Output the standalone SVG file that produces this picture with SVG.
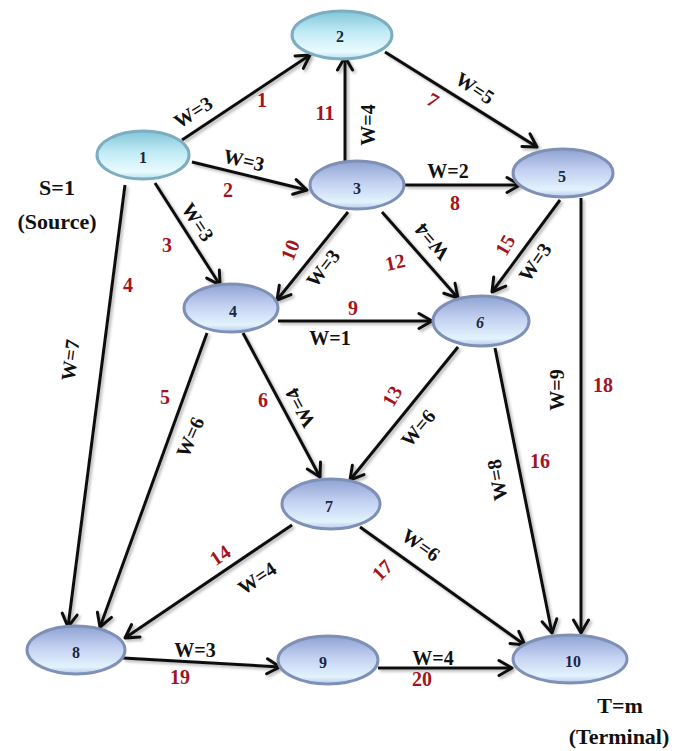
<svg xmlns="http://www.w3.org/2000/svg" width="681" height="751" viewBox="0 0 681 751">
<defs>
<linearGradient id="gBlue" x1="0" y1="0" x2="0" y2="1">
<stop offset="0" stop-color="#8ea2d2"/>
<stop offset="0.45" stop-color="#c3d0f1"/>
<stop offset="0.85" stop-color="#e3f3fd"/>
<stop offset="1" stop-color="#b9c8ea"/>
</linearGradient>
<linearGradient id="gCyan" x1="0" y1="0" x2="0" y2="1">
<stop offset="0" stop-color="#82c6da"/>
<stop offset="0.45" stop-color="#c2ebf5"/>
<stop offset="0.85" stop-color="#eafbff"/>
<stop offset="1" stop-color="#b4e0ec"/>
</linearGradient>
<marker id="arr" viewBox="-15 -10 18 20" refX="0" refY="0" markerWidth="18" markerHeight="20" markerUnits="userSpaceOnUse" orient="auto">
<path d="M-13,-7.5 L0,0 L-13,7.5" fill="none" stroke="#111" stroke-width="3" stroke-linecap="round" stroke-linejoin="round"/>
</marker>
<filter id="sh" x="-10%" y="-10%" width="120%" height="120%">
<feDropShadow dx="2" dy="2" stdDeviation="1.5" flood-color="#000" flood-opacity="0.3"/>
</filter>
</defs>
<style>
.e{stroke:#111;stroke-width:3;fill:none;marker-end:url(#arr)}
.nb{fill:url(#gBlue);stroke:#7f90b6;stroke-width:3}
.nc{fill:url(#gCyan);stroke:#7cadc0;stroke-width:3}
.nl{font-size:16px;fill:#1b2640;text-anchor:middle;dominant-baseline:central}
.w{font-size:20px;fill:#111;text-anchor:middle;dominant-baseline:central}
.r{font-size:20px;fill:#a3141f;text-anchor:middle;dominant-baseline:central}
.t{font-size:22px;fill:#111;text-anchor:middle}
</style>
<rect width="681" height="751" fill="#fff"/>
<g id="connectors" filter="url(#sh)">
<line class="e" x1="182" y1="140" x2="310" y2="55"/>
<line class="e" x1="192" y1="162" x2="307" y2="190"/>
<line class="e" x1="155" y1="183" x2="220" y2="285"/>
<line class="e" x1="125" y1="185" x2="68" y2="627"/>
<line class="e" x1="207" y1="333" x2="100" y2="627"/>
<line class="e" x1="243" y1="333" x2="320" y2="477"/>
<line class="e" x1="385" y1="52" x2="537" y2="147"/>
<line class="e" x1="405" y1="185" x2="520" y2="185"/>
<line class="e" x1="278" y1="321" x2="432" y2="321"/>
<line class="e" x1="348" y1="212" x2="277" y2="300"/>
<line class="e" x1="345" y1="162" x2="345" y2="57"/>
<line class="e" x1="382" y1="212" x2="458" y2="298"/>
<line class="e" x1="458" y1="347" x2="350" y2="480"/>
<line class="e" x1="292" y1="525" x2="125" y2="638"/>
<line class="e" x1="560" y1="200" x2="492" y2="292"/>
<line class="e" x1="495" y1="348" x2="552" y2="633"/>
<line class="e" x1="360" y1="527" x2="525" y2="645"/>
<line class="e" x1="581" y1="198" x2="581" y2="633"/>
<line class="e" x1="123" y1="658" x2="280" y2="667"/>
<line class="e" x1="378" y1="668" x2="512" y2="668"/>
</g>
<g id="edge-labels" font-family="Liberation Serif, serif" font-weight="bold">
<text class="w" transform="translate(193,112) rotate(-32)">W=3</text>
<text class="r" x="262" y="100">1</text>
<text class="w" transform="translate(244,160) rotate(13)">W=3</text>
<text class="r" x="228" y="190">2</text>
<text class="w" transform="translate(198,222) rotate(57)">W=3</text>
<text class="r" x="167" y="245">3</text>
<text class="w" transform="translate(70,360) rotate(-83)">W=7</text>
<text class="r" x="128" y="285">4</text>
<text class="w" transform="translate(190,437) rotate(-66)">W=6</text>
<text class="r" x="165" y="397">5</text>
<text class="w" transform="translate(300,408) rotate(-118)">W=4</text>
<text class="r" x="263" y="400">6</text>
<text class="w" transform="translate(475,88) rotate(33)">W=5</text>
<text class="r" transform="translate(433,100) rotate(30)">7</text>
<text class="w" x="448" y="171">W=2</text>
<text class="r" x="455" y="203">8</text>
<text class="w" x="330" y="338">W=1</text>
<text class="r" x="353" y="308">9</text>
<text class="w" transform="translate(323,268) rotate(-52)">W=3</text>
<text class="r" transform="translate(290,250) rotate(-68)">10</text>
<text class="w" transform="translate(368,125) rotate(-90)">W=4</text>
<text class="r" x="325" y="113">11</text>
<text class="w" transform="translate(432,242) rotate(-131)">W=4</text>
<text class="r" transform="translate(395,262) rotate(-12)">12</text>
<text class="w" transform="translate(418,428) rotate(-50)">W=6</text>
<text class="r" transform="translate(392,396) rotate(-60)">13</text>
<text class="w" transform="translate(257,578) rotate(-34)">W=4</text>
<text class="r" transform="translate(220,555) rotate(-34)">14</text>
<text class="w" transform="translate(535,262) rotate(-55)">W=3</text>
<text class="r" transform="translate(505,245) rotate(-60)">15</text>
<text class="w" transform="translate(497,480) rotate(-100)">W=8</text>
<text class="r" x="540" y="461">16</text>
<text class="w" transform="translate(421,545) rotate(35)">W=6</text>
<text class="r" transform="translate(382,570) rotate(-45)">17</text>
<text class="w" transform="translate(557,390) rotate(-90)">W=9</text>
<text class="r" x="603" y="385">18</text>
<text class="w" x="195" y="650">W=3</text>
<text class="r" x="180" y="677">19</text>
<text class="w" x="433" y="658">W=4</text>
<text class="r" x="422" y="679">20</text>
</g>
<g id="nodes" font-family="Liberation Serif, serif" font-weight="bold">
<g id="node1"><ellipse class="nc" cx="143" cy="155" rx="46" ry="24"/><text class="nl" x="143" y="157">1</text></g>
<g id="node2"><ellipse class="nc" cx="342" cy="35" rx="50" ry="24"/><text class="nl" x="340" y="36">2</text></g>
<g id="node3"><ellipse class="nb" cx="357" cy="185" rx="47" ry="24"/><text class="nl" x="357" y="188">3</text></g>
<g id="node4"><ellipse class="nb" cx="231" cy="308" rx="47" ry="24"/><text class="nl" x="233" y="311">4</text></g>
<g id="node5"><ellipse class="nb" cx="563" cy="173" rx="50" ry="24"/><text class="nl" x="562" y="176">5</text></g>
<g id="node6"><ellipse class="nb" cx="481" cy="321" rx="48" ry="25"/><text class="nl" x="480" y="322" font-style="italic">6</text></g>
<g id="node7"><ellipse class="nb" cx="331" cy="504" rx="49" ry="25"/><text class="nl" x="329" y="506">7</text></g>
<g id="node8"><ellipse class="nb" cx="76" cy="650" rx="49" ry="24"/><text class="nl" x="76" y="652">8</text></g>
<g id="node9"><ellipse class="nb" cx="328" cy="660" rx="50" ry="24"/><text class="nl" x="323" y="662">9</text></g>
<g id="node10"><ellipse class="nb" cx="570" cy="659" rx="57" ry="24"/><text class="nl" x="573" y="661">10</text></g>
</g>
<g id="annotations" font-family="Liberation Serif, serif" font-weight="bold">
<text class="t" x="57" y="195">S=1</text>
<text class="t" x="57" y="229">(Source)</text>
<text class="t" x="620" y="713">T=m</text>
<text class="t" x="619" y="744">(Terminal)</text>
</g>
</svg>
